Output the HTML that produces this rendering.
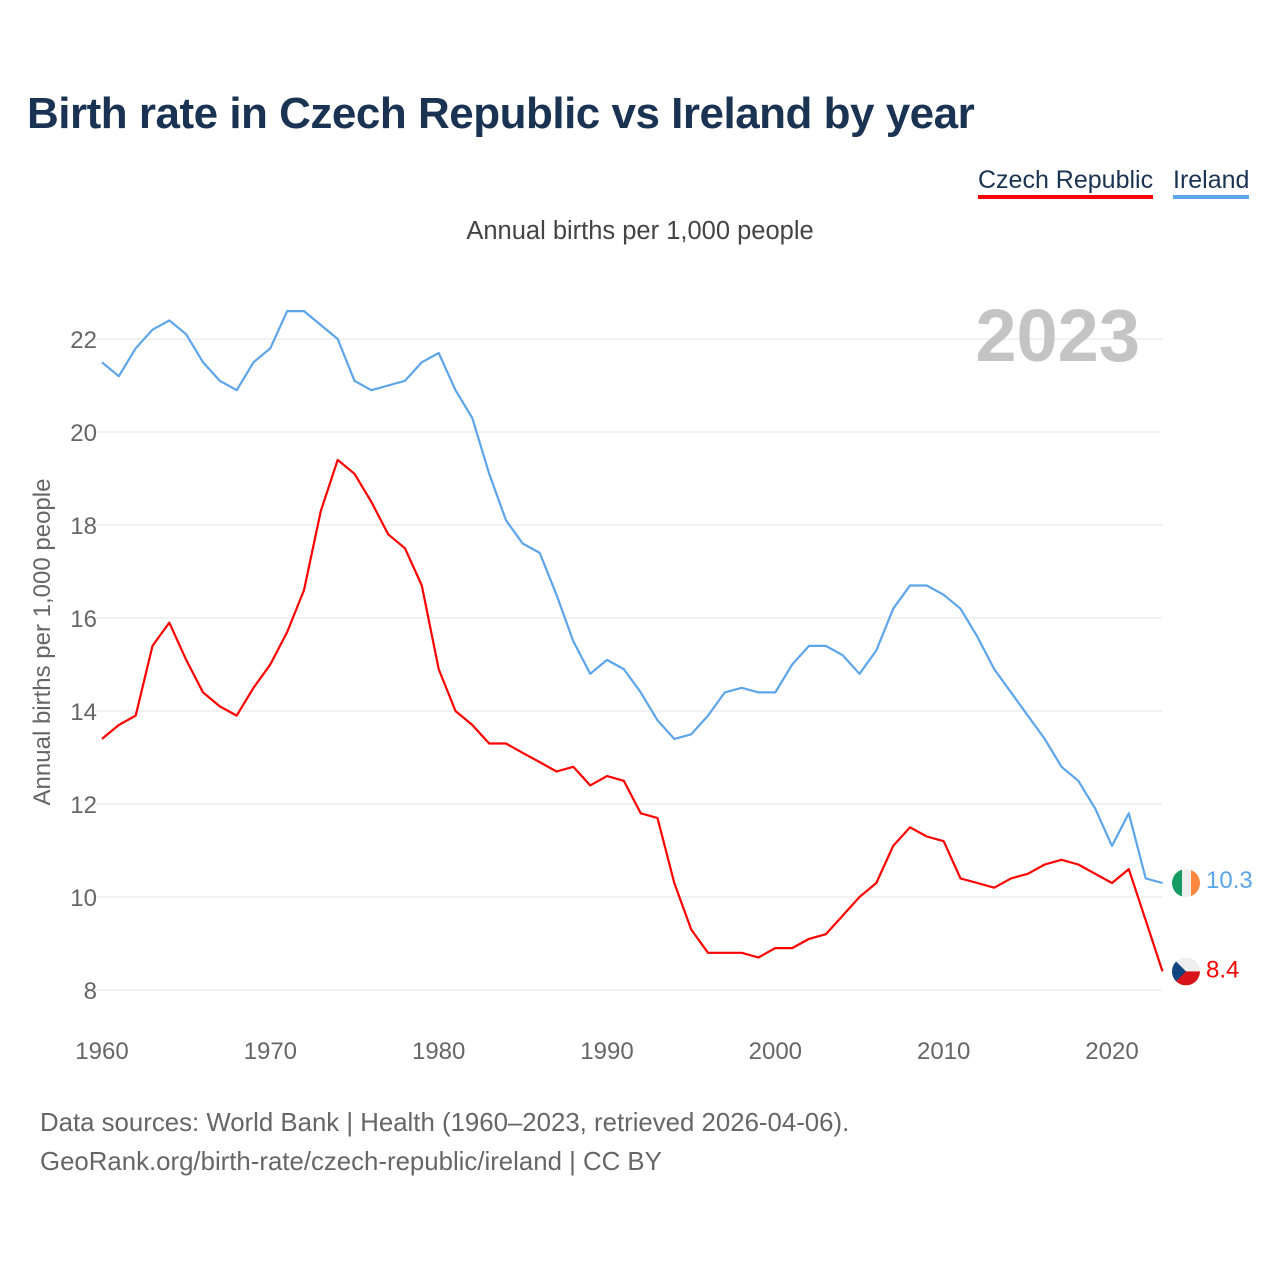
<!DOCTYPE html>
<html><head><meta charset="utf-8">
<style>
html,body{margin:0;padding:0;background:#fff;}
body{width:1280px;height:1280px;position:relative;font-family:"Liberation Sans",sans-serif;overflow:hidden;}
#title{position:absolute;left:27px;top:89px;font-size:44px;font-weight:bold;color:#1b3352;margin:0;letter-spacing:-0.5px;}
.leg{position:absolute;top:166px;font-size:25px;color:#1b3352;}
#sub{position:absolute;left:0;width:1280px;top:217px;text-align:center;font-size:25.5px;color:#444;}
#foot{position:absolute;left:40px;top:1104px;font-size:25.8px;color:#666;line-height:39px;}
svg{position:absolute;left:0;top:0;}
</style></head><body>
<h1 id="title">Birth rate in Czech Republic vs Ireland by year</h1>
<div class="leg" style="left:978px;border-bottom:4px solid #f00;padding-bottom:0;">Czech Republic</div>
<div class="leg" style="left:1173px;border-bottom:4px solid #5da5ea;">Ireland</div>
<div id="sub">Annual births per 1,000 people</div>
<div id="foot">Data sources: World Bank | Health (1960–2023, retrieved 2026-04-06).<br>GeoRank.org/birth-rate/czech-republic/ireland | CC BY</div>
<svg id="chart" width="1280" height="1280"></svg>
<script>
const years = [];
for (let y = 1960; y <= 2023; y++) years.push(y);
const ireland = [21.5,21.2,21.8,22.2,22.4,22.1,21.5,21.1,20.9,21.5,21.8,22.6,22.6,22.3,22.0,21.1,20.9,21.0,21.1,21.5,21.7,20.9,20.3,19.1,18.1,17.6,17.4,16.5,15.5,14.8,15.1,14.9,14.4,13.8,13.4,13.5,13.9,14.4,14.5,14.4,14.4,15.0,15.4,15.4,15.2,14.8,15.3,16.2,16.7,16.7,16.5,16.2,15.6,14.9,14.4,13.9,13.4,12.8,12.5,11.9,11.1,11.8,10.4,10.3];
const czech = [13.4,13.7,13.9,15.4,15.9,15.1,14.4,14.1,13.9,14.5,15.0,15.7,16.6,18.3,19.4,19.1,18.5,17.8,17.5,16.7,14.9,14.0,13.7,13.3,13.3,13.1,12.9,12.7,12.8,12.4,12.6,12.5,11.8,11.7,10.3,9.3,8.8,8.8,8.8,8.7,8.9,8.9,9.1,9.2,9.6,10.0,10.3,11.1,11.5,11.3,11.2,10.4,10.3,10.2,10.4,10.5,10.7,10.8,10.7,10.5,10.3,10.6,9.5,8.4];
const yTicks = [8,10,12,14,16,18,20,22];
const xTicks = [1960,1970,1980,1990,2000,2010,2020];

const NS = "http://www.w3.org/2000/svg";
const svg = document.getElementById('chart');
const xS = v => 102 + (v - 1960) * (1010 / 60);
const yS = v => 339 + (22 - v) * 46.5;
function mk(tag, attrs, parent) {
  const e = document.createElementNS(NS, tag);
  for (const k in attrs) e.setAttribute(k, attrs[k]);
  (parent || svg).appendChild(e);
  return e;
}
yTicks.forEach(t => {
  const g = mk('line', {x1: 95, x2: 1162, y1: yS(t), y2: yS(t), stroke: '#e6e6e6', 'stroke-width': 1});
  
  
  const l = mk('text', {x: 97, y: yS(t) + 9, 'text-anchor': 'end', 'font-size': 24, fill: '#666', 'font-family': 'Liberation Sans, sans-serif'});
  l.textContent = t;
  
  
});
xTicks.forEach(t => {
  const l = mk('text', {x: xS(t), y: 1059, 'text-anchor': 'middle', 'font-size': 24, fill: '#666', 'font-family': 'Liberation Sans, sans-serif'});
  l.textContent = t;
  
  
});
const yt = mk('text', {transform: 'translate(50,642) rotate(-90)', 'text-anchor': 'middle', 'font-size': 24, fill: '#666', 'font-family': 'Liberation Sans, sans-serif'});
yt.textContent = 'Annual births per 1,000 people';


const yr = mk('text', {x: 1140, y: 361, 'text-anchor': 'end', 'font-size': 74, 'font-weight': 'bold', fill: '#c4c4c4', 'font-family': 'Liberation Sans, sans-serif'});
yr.textContent = '2023';



function series(vals, color, name) {
  const d = vals.map((v, i) => (i ? 'L' : 'M') + xS(years[i]).toFixed(1) + ',' + yS(v).toFixed(1)).join('');
  const p = mk('path', {d: d, fill: 'none', stroke: color, 'stroke-width': 2.2, 'stroke-linejoin': 'round'});
  
  
}
series(ireland, '#5da5ea', 'ireland');
series(czech, '#ff0000', 'czech-republic');

const lastI = ireland[ireland.length - 1], lastC = czech[czech.length - 1];
const cx = 1186;
const ie = mk('g', {});


const iy = yS(lastI);
mk('defs', {}, ie).innerHTML = '<clipPath id="ci"><circle cx="' + cx + '" cy="' + iy + '" r="14"/></clipPath><clipPath id="cc"><circle cx="' + cx + '" cy="' + yS(lastC) + '" r="14"/></clipPath>';
mk('rect', {x: cx - 14, y: iy - 14, width: 10, height: 28, fill: '#169b62', 'clip-path': 'url(#ci)'}, ie);
mk('rect', {x: cx - 4, y: iy - 14, width: 9, height: 28, fill: '#eeeeee', 'clip-path': 'url(#ci)'}, ie);
mk('rect', {x: cx + 5, y: iy - 14, width: 10, height: 28, fill: '#ff883e', 'clip-path': 'url(#ci)'}, ie);
const cz = mk('g', {});


const cy = yS(lastC);
mk('rect', {x: cx - 14, y: cy - 14, width: 28, height: 14, fill: '#eeeeee', 'clip-path': 'url(#cc)'}, cz);
mk('rect', {x: cx - 14, y: cy, width: 28, height: 14, fill: '#d7141a', 'clip-path': 'url(#cc)'}, cz);
mk('path', {d: 'M' + (cx - 14) + ',' + (cy - 14) + 'L' + (cx) + ',' + cy + 'L' + (cx - 14) + ',' + (cy + 14) + 'Z', fill: '#11457e', 'clip-path': 'url(#cc)'}, cz);
const li = mk('text', {x: 1206, y: iy + 5, 'font-size': 24, fill: '#5da5ea', 'font-family': 'Liberation Sans, sans-serif'});
li.textContent = lastI.toFixed(1);


const lc = mk('text', {x: 1206, y: cy + 6, 'font-size': 24, fill: '#ff0000', 'font-family': 'Liberation Sans, sans-serif'});
lc.textContent = lastC.toFixed(1);


</script>
</body></html>
